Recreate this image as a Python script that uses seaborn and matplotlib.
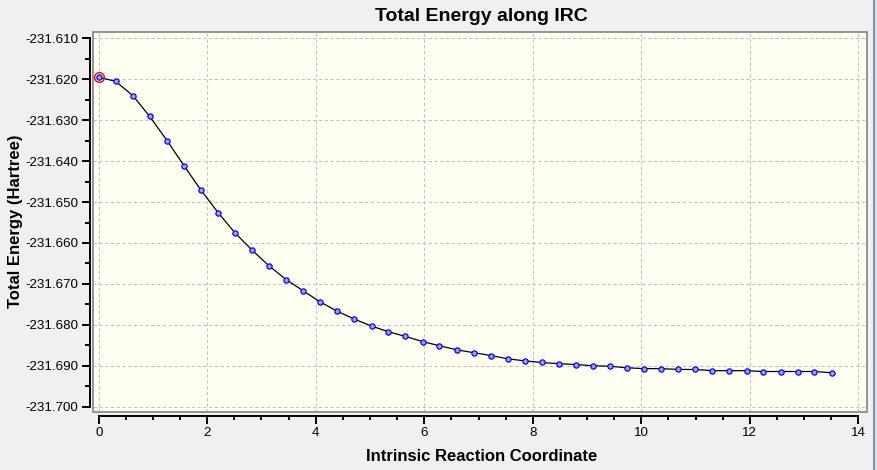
import numpy as np
import pandas as pd
import matplotlib
matplotlib.use("Agg")
import matplotlib.pyplot as plt
import seaborn as sns
from matplotlib.patches import Rectangle
from matplotlib.ticker import FixedLocator, FuncFormatter

# ---------------- data ----------------
irc_coord = [0.00, 0.31, 0.63, 0.94, 1.26, 1.57, 1.88, 2.20, 2.51, 2.83,
             3.14, 3.46, 3.77, 4.08, 4.40, 4.71, 5.03, 5.34, 5.65, 5.97,
             6.28, 6.60, 6.91, 7.23, 7.54, 7.85, 8.17, 8.48, 8.80, 9.11,
             9.42, 9.74, 10.05, 10.37, 10.68, 10.99, 11.31, 11.62, 11.94, 12.25,
             12.57, 12.88, 13.19, 13.51]
total_energy = [-231.6195, -231.6205, -231.6240, -231.6291, -231.6350,
                -231.6411, -231.6470, -231.6526, -231.6575, -231.6618,
                -231.6656, -231.6690, -231.6717, -231.6744, -231.6767,
                -231.6786, -231.6803, -231.6817, -231.6828, -231.6841,
                -231.6851, -231.6861, -231.6868, -231.6875, -231.6883,
                -231.6888, -231.6892, -231.6895, -231.6897, -231.6900,
                -231.6901, -231.6905, -231.6907, -231.6907, -231.6909,
                -231.6909, -231.6912, -231.6912, -231.6912, -231.6914,
                -231.6914, -231.6914, -231.6914, -231.6917]
x_major_ticks = [0, 2, 4, 6, 8, 10, 12, 14]
y_major_ticks = [-231.700, -231.690, -231.680, -231.670, -231.660,
                 -231.650, -231.640, -231.630, -231.620, -231.610]
title_text = "Total Energy along IRC"
x_label_text = "Intrinsic Reaction Coordinate"
y_label_text = "Total Energy (Hartree)"

df = pd.DataFrame({"x": irc_coord, "E": total_energy})

# ---------------- style ----------------
plt.rcParams["font.family"] = ["Liberation Sans", "DejaVu Sans"]
plt.rcParams["axes.unicode_minus"] = False

W, H = 877, 470
fig = plt.figure(figsize=(W / 100, H / 100), dpi=100, facecolor="#F0F0F0")
L, R, T, B = 93.3, 867.0, 32.3, 411.7
ax = fig.add_axes([L / W, 1 - B / H, (R - L) / W, (B - T) / H])
ax.set_facecolor("#FFFFF4")

sns.lineplot(data=df, x="x", y="E", ax=ax, color="black", linewidth=0.9,
             marker="o", markersize=3.8, markerfacecolor="#98A4D2",
             markeredgecolor="#0000FF", markeredgewidth=0.85, zorder=3)
# highlighted current point
ax.plot(irc_coord[0], total_energy[0], "o", ms=7, mfc="none", mec="red",
        mew=1.0, zorder=4)

ax.set_xlim(-0.10, 14.16)
ax.set_ylim(-231.70122, -231.60853)

ax.xaxis.set_major_locator(FixedLocator(x_major_ticks))
ax.xaxis.set_minor_locator(FixedLocator([v / 2 for v in range(0, 29)]))
ax.yaxis.set_major_locator(FixedLocator(y_major_ticks))
ax.yaxis.set_minor_locator(FixedLocator([-231.705 + 0.005 * i for i in range(1, 20)]))
ax.xaxis.set_major_formatter(FuncFormatter(lambda v, p: f"{v:g}"))
ax.yaxis.set_major_formatter(FuncFormatter(lambda v, p: f"{v:.3f}"))

ax.grid(True, which="major", color="#C4C4C4", linestyle=(0, (3, 2.2)),
        linewidth=0.8)
ax.set_axisbelow(True)

for s in ["top", "right"]:
    ax.spines[s].set_visible(False)
ax.spines["left"].set_position(("outward", 2.4))
ax.spines["bottom"].set_position(("outward", 2.9))
ax.spines["left"].set_bounds(-231.700, -231.610)
ax.spines["bottom"].set_bounds(0, 14)
for s in ["left", "bottom"]:
    ax.spines[s].set_linewidth(1.4)
    ax.spines[s].set_color("black")

ax.tick_params(axis="both", which="major", direction="out", length=5.8,
               width=1.4, color="black", labelsize=9.6, labelcolor="black")
ax.tick_params(axis="y", which="major", pad=2.6)
ax.tick_params(axis="x", which="major", pad=2.0)
ax.tick_params(axis="x", which="minor", direction="out", length=2.7, width=1.4)
ax.tick_params(axis="y", which="minor", direction="out", length=3.6, width=1.4)
ax.set_xlabel("")
ax.set_ylabel("")

# plot-area border
ax.add_patch(Rectangle((0, 0), 1, 1, transform=ax.transAxes, fill=False,
                       edgecolor="#8C8C8C", linewidth=1.3, clip_on=False,
                       zorder=5))

# texts
fig.text(481 / W, 1 - 20.7 / H, title_text, ha="center", va="baseline",
         fontsize=14, fontweight="bold")
fig.text(482 / W, 1 - 461 / H, x_label_text, ha="center", va="baseline",
         fontsize=12, fontweight="bold")
fig.text(15.5 / W, 1 - 221 / H, y_label_text, ha="center", va="center",
         rotation=90, fontsize=12, fontweight="bold")

# window frame on the right edge
fig.patches.append(Rectangle((872.7 / W, 0), 2.3 / W, 1, transform=fig.transFigure,
                             facecolor="#8A8F99", edgecolor="none"))
fig.patches.append(Rectangle((875 / W, 0), 2 / W, 1, transform=fig.transFigure,
                             facecolor="#D6E2F0", edgecolor="none"))

fig.savefig("out.png", dpi=100, facecolor=fig.get_facecolor())
